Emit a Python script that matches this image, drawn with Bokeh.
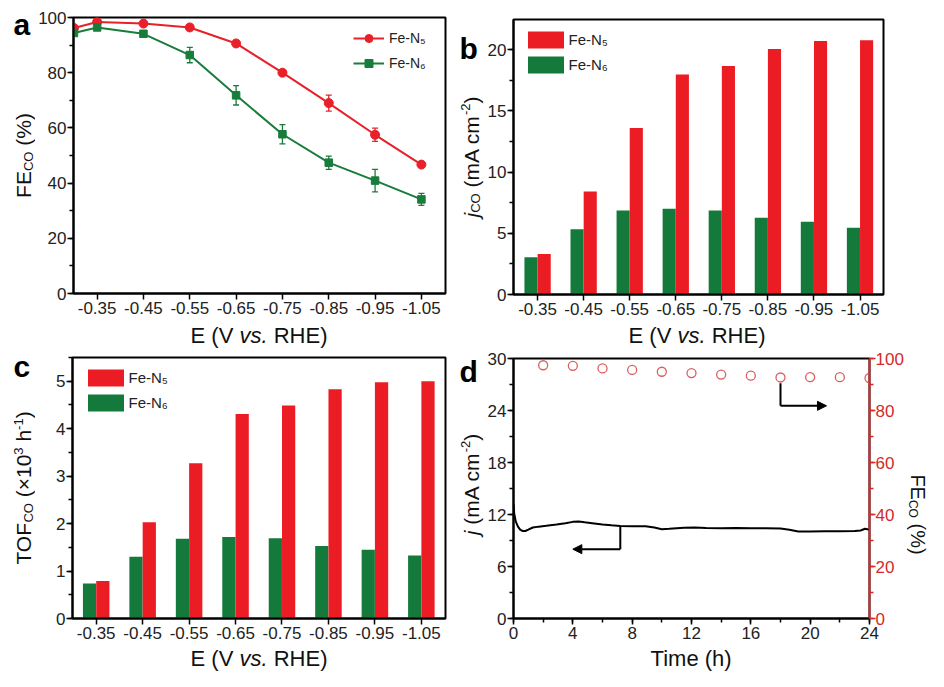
import math
from bokeh.plotting import figure
from bokeh.models import (Range1d, LinearAxis, FixedTicker, SingleIntervalTicker, Label,
                          Legend, LegendItem, Whisker, TeeHead, ColumnDataSource, Arrow, NormalHead)
from bokeh.layouts import column, row
from bokeh.transform import dodge
from bokeh.embed import file_html
from bokeh.resources import INLINE

FONT = "Liberation Sans"
RED = "#e8202a"
GREEN = "#187c3b"
BAR_RED = "#ec1c24"
BAR_GREEN = "#137a3c"
AX_RED = "#d42a2a"
FE_CIRCLE = "#d8605f"

# ---------------- data ----------------
# panel a
POT_A = [-0.30, -0.35, -0.45, -0.55, -0.65, -0.75, -0.85, -0.95, -1.05]
FE_N5 = [96.2, 98.4, 97.8, 96.4, 90.6, 80.0, 69.0, 57.5, 46.7]
FE_N5_ERR = [1.0, 1.0, 0.8, 0.8, 1.0, 1.0, 2.9, 2.4, 1.0]
FE_N6 = [94.4, 96.4, 94.1, 86.4, 71.8, 57.7, 47.4, 40.9, 34.1]
FE_N6_ERR = [1.0, 1.0, 1.0, 2.8, 3.5, 3.5, 2.4, 4.1, 2.2]
POT_TICKS = [-0.35, -0.45, -0.55, -0.65, -0.75, -0.85, -0.95, -1.05]
POT_LABELS = ["-0.35", "-0.45", "-0.55", "-0.65", "-0.75", "-0.85", "-0.95", "-1.05"]

# panel b  (j_CO, mA cm^-2)
J_N5 = [3.3, 8.4, 13.6, 17.95, 18.65, 20.05, 20.7, 20.75]
J_N6 = [3.05, 5.33, 6.86, 7.0, 6.86, 6.26, 5.93, 5.44]

# panel c  (TOF_CO, x10^3 h^-1)
TOF_N5 = [0.79, 2.03, 3.27, 4.31, 4.49, 4.83, 4.98, 5.0]
TOF_N6 = [0.74, 1.30, 1.68, 1.72, 1.69, 1.53, 1.45, 1.33]

# panel d
TIME_H = [0, 0.05, 0.15, 0.3, 0.45, 0.6, 0.8, 1.0, 1.3, 1.7, 2.2, 2.9, 3.5, 4.0, 4.4, 4.8, 5.3,
          6.0, 6.6, 7.2, 8.0, 8.9, 9.5, 10.0, 10.5, 11.0, 11.5, 12.2, 13.0, 14.0, 15.0, 16.0,
          17.0, 18.0, 18.6, 19.2, 20.0, 21.0, 22.0, 23.0, 23.4, 23.7, 24.0]
J_TOTAL = [13.2, 12.1, 11.2, 10.6, 10.25, 10.1, 10.1, 10.25, 10.5, 10.6, 10.7, 10.85, 11.0,
           11.15, 11.2, 11.1, 11.0, 10.85, 10.75, 10.68, 10.65, 10.65, 10.5, 10.3, 10.35, 10.42,
           10.48, 10.5, 10.45, 10.42, 10.45, 10.42, 10.4, 10.38, 10.25, 10.05, 10.05, 10.08,
           10.08, 10.1, 10.15, 10.35, 10.25]
FE_TIME = [2, 4, 6, 8, 10, 12, 14, 16, 18, 20, 22, 24]
FE_STAB = [97.4, 97.2, 96.2, 95.6, 94.9, 94.4, 93.8, 93.4, 92.7, 92.8, 92.8, 92.5]
ARROW_J_X = [7.2, 7.2, 4.0]
ARROW_J_Y = [10.6, 8.0, 8.0]
ARROW_FE_X = [18.0, 18.0, 21.1]
ARROW_FE_Y = [90.5, 81.8, 81.8]

# ---------------- helpers ----------------
CW = {' ': 278, '(': 333, ')': 333, '%': 889, '-': 333, '.': 278, '\u00d7': 584,
      'A': 667, 'C': 722, 'E': 667, 'F': 611, 'H': 722, 'O': 778, 'R': 722, 'T': 611,
      'V': 667, 'a': 556, 'c': 500, 'e': 556, 'h': 556, 'i': 222, 'j': 222, 'm': 833,
      's': 500, 'v': 500, 't': 278, 'o': 556}
MID = 0.3465  # distance from the vertical text centre to the alphabetic baseline, in em


def text_w(t, size):
    return sum(CW.get(ch, 556) for ch in t) * size / 1000.0


def rich(p, x, y, parts, angle=0.0, color="#111111"):
    """parts: (text, size, style, dy); (x, y) = centre of the baseline, dy>0 raises a run."""
    widths = [text_w(t, s) for t, s, _, _ in parts]
    total = sum(widths)
    ux, uy = math.cos(angle), math.sin(angle)
    nx, ny = -math.sin(angle), math.cos(angle)
    pos = -total / 2.0
    for (t, s, st, dy), w in zip(parts, widths):
        lead = len(t) - len(t.lstrip(' '))
        q = pos + lead * 278 * s / 1000.0
        txt = t.strip(' ')
        up = dy + MID * s
        if txt:
            p.add_layout(Label(x=x + ux * q + nx * up, y=y + uy * q + ny * up,
                               x_units="screen", y_units="screen", text=txt,
                               text_font=FONT, text_font_size=f"{s}px", text_font_style=st,
                               text_color=color, angle=angle, text_align="left",
                               text_baseline="middle"))
        pos += w


def letter(p, x, y, t):
    p.add_layout(Label(x=x, y=y + MID * 30, x_units="screen", y_units="screen", text=t,
                       text_font=FONT, text_font_size="30px", text_font_style="bold",
                       text_color="black", text_align="left", text_baseline="middle"))


def style(p):
    p.outline_line_color = "black"
    p.outline_line_width = 2
    p.outline_line_alpha = 1
    p.xgrid.visible = False
    p.ygrid.visible = False
    p.background_fill_color = "white"
    p.border_fill_color = "white"
    for ax in p.axis:
        ax.axis_line_width = 2
        ax.axis_line_color = "black"
        ax.major_tick_line_width = 1.5
        ax.minor_tick_line_width = 1.5
        ax.major_tick_out = 6
        ax.major_tick_in = 0
        ax.minor_tick_out = 4
        ax.minor_tick_in = 0
        ax.major_label_text_font = FONT
        ax.major_label_text_font_size = "17px"
        ax.major_label_text_color = "#222222"
        ax.major_label_standoff = 2
    for ax in p.yaxis:
        ax.major_label_standoff = 1


def mk(w, h, bl, br, bt, bb, xr, yr):
    return figure(width=w, height=h, min_border_left=bl, min_border_right=br,
                  min_border_top=bt, min_border_bottom=bb, x_range=xr, y_range=yr,
                  output_backend="svg", toolbar_location=None, tools="", title=None)


def strip(w, h):
    f = figure(width=w, height=h, min_border_left=0, min_border_right=0, min_border_top=0,
               min_border_bottom=0, x_axis_location=None, y_axis_location=None,
               toolbar_location=None, tools="", title=None, output_backend="svg",
               x_range=Range1d(0, 1), y_range=Range1d(0, 1))
    f.outline_line_color = None
    f.xgrid.visible = False
    f.ygrid.visible = False
    f.background_fill_color = "white"
    f.border_fill_color = "white"
    return f


E_LABEL = [("E (V ", 22, "normal", 0), ("vs.", 22, "italic", 0), (" RHE)", 22, "normal", 0)]
SUB = -2.0
SUP = 8.0

# ---------------- panel a ----------------
pa = mk(423, 323, 37, 13, 17, 30, Range1d(-0.299, -1.102), Range1d(0, 100))
src5 = ColumnDataSource(dict(x=POT_A, y=FE_N5, up=[v + e for v, e in zip(FE_N5, FE_N5_ERR)],
                             lo=[v - e for v, e in zip(FE_N5, FE_N5_ERR)]))
src6 = ColumnDataSource(dict(x=POT_A, y=FE_N6, up=[v + e for v, e in zip(FE_N6, FE_N6_ERR)],
                             lo=[v - e for v, e in zip(FE_N6, FE_N6_ERR)]))
for s, c in ((src5, RED), (src6, GREEN)):
    pa.add_layout(Whisker(source=s, base="x", upper="up", lower="lo", dimension="height",
                          line_color=c, line_width=1.3,
                          upper_head=TeeHead(size=6, line_color=c, line_width=1.3),
                          lower_head=TeeHead(size=6, line_color=c, line_width=1.3)))
l5 = pa.line("x", "y", source=src5, line_color=RED, line_width=2)
m5 = pa.scatter("x", "y", source=src5, marker="circle", size=9, fill_color=RED, line_color=RED)
l6 = pa.line("x", "y", source=src6, line_color=GREEN, line_width=2)
m6 = pa.scatter("x", "y", source=src6, marker="square", size=7.5, fill_color=GREEN, line_color=GREEN)
pa.xaxis.ticker = FixedTicker(ticks=POT_TICKS, minor_ticks=[])
pa.xaxis.major_label_overrides = {t: l for t, l in zip(POT_TICKS, POT_LABELS)}
pa.yaxis.ticker = SingleIntervalTicker(interval=20, num_minor_ticks=2)
leg_a = Legend(items=[LegendItem(label="Fe-N\u2085", renderers=[l5, m5]),
                      LegendItem(label="Fe-N\u2086", renderers=[l6, m6])],
               location=(280, 220), border_line_color=None, background_fill_alpha=0,
               padding=0, margin=0, spacing=5, glyph_width=31, glyph_height=20,
               label_height=20, label_standoff=5, label_text_font=FONT,
               label_text_font_size="14px", label_text_color="#222222")
pa.add_layout(leg_a)
style(pa)

ya = strip(35, 323)   # its frame is aligned with pa's frame (276 px tall)
rich(ya, 30.5, 138, [("FE", 21, "normal", 0), ("CO", 13, "normal", SUB), (" (%)", 21, "normal", 0)],
     angle=math.pi / 2)
letter(ya, 13, 259, "a")
xa = strip(458, 25)
rich(xa, 258.5, 5, E_LABEL)


# ---------------- bar panels ----------------
def bar_panel(w, h, bl, br, bt, bb, xr, yr, n5, n6, ytick, legend_loc):
    p = mk(w, h, bl, br, bt, bb, xr, yr)
    s = ColumnDataSource(dict(x=list(range(len(n5))), n5=n5, n6=n6))
    g = p.vbar(x=dodge("x", -0.143), top="n6", width=0.285, source=s,
               fill_color=BAR_GREEN, line_color=None)
    r = p.vbar(x=dodge("x", 0.143), top="n5", width=0.285, source=s,
               fill_color=BAR_RED, line_color=None)
    p.xaxis.ticker = FixedTicker(ticks=list(range(len(n5))), minor_ticks=[])
    p.xaxis.major_label_overrides = {i: l for i, l in enumerate(POT_LABELS)}
    p.yaxis.ticker = SingleIntervalTicker(interval=ytick, num_minor_ticks=2)
    leg = Legend(items=[LegendItem(label="Fe-N\u2085", renderers=[r]),
                        LegendItem(label="Fe-N\u2086", renderers=[g])],
                 location=legend_loc, border_line_color=None, background_fill_alpha=0,
                 padding=0, margin=0, spacing=4, glyph_width=45, glyph_height=21,
                 label_height=20, label_standoff=1, label_text_font=FONT,
                 label_text_font_size="15px", label_text_color="#222222")
    p.add_layout(leg)
    style(p)
    return p


pb = bar_panel(444, 323, 26, 45, 19, 29, Range1d(-0.523, 7.51), Range1d(0, 22.45), J_N5, J_N6, 5,
               (9.5, 219))
yb = strip(26, 323)   # frame aligned with pb's frame (275 px)
rich(yb, 20, 137.5, [("j", 21, "italic", 0), ("CO", 13, "normal", SUB),
                     (" (mA cm", 21, "normal", 0), ("-2", 13, "normal", SUP),
                     (")", 21, "normal", 0)], angle=math.pi / 2)
letter(yb, 1, 236, "b")
xb = strip(470, 25)
rich(xb, 238.5, 5, E_LABEL)

pc = bar_panel(423, 298, 37, 13, 9, 28, Range1d(-0.51, 7.52), Range1d(0, 5.5), TOF_N5, TOF_N6, 1,
               (10.5, 205))
yc = strip(35, 298)   # frame aligned with pc's frame (261 px)
rich(yc, 30.5, 130.5, [("TOF", 21, "normal", 0), ("CO", 13, "normal", SUB),
                       (" (\u00d710", 21, "normal", 0), ("3", 13, "normal", SUP),
                       (" h", 21, "normal", 0), ("-1", 13, "normal", SUP),
                       (")", 21, "normal", 0)], angle=math.pi / 2)
letter(yc, 13, 242, "c")
xc = strip(458, 25)
rich(xc, 258.5, 5, E_LABEL)

# ---------------- panel d ----------------
pd_ = mk(422, 298, 27, 35, 10, 28, Range1d(0, 24), Range1d(0, 30))
pd_.extra_y_ranges = {"fe": Range1d(0, 100)}
rax = LinearAxis(y_range_name="fe", ticker=SingleIntervalTicker(interval=20, num_minor_ticks=2))
pd_.add_layout(rax, "right")
pd_.line(TIME_H, J_TOTAL, line_color="black", line_width=2)
pd_.scatter(FE_TIME, FE_STAB, y_range_name="fe", marker="circle", size=9, fill_color=None,
            line_color=FE_CIRCLE, line_width=1.3)
pd_.line(ARROW_J_X[:2], ARROW_J_Y[:2], line_color="black", line_width=2)
pd_.add_layout(Arrow(end=NormalHead(size=9, fill_color="black", line_color="black"),
                     x_start=ARROW_J_X[1], y_start=ARROW_J_Y[1], x_end=ARROW_J_X[2],
                     y_end=ARROW_J_Y[2], line_color="black", line_width=2))
pd_.line(ARROW_FE_X[:2], ARROW_FE_Y[:2], y_range_name="fe", line_color="black", line_width=2)
pd_.add_layout(Arrow(end=NormalHead(size=9, fill_color="black", line_color="black"),
                     x_start=ARROW_FE_X[1], y_start=ARROW_FE_Y[1], x_end=ARROW_FE_X[2],
                     y_end=ARROW_FE_Y[2], y_range_name="fe", line_color="black", line_width=2))
pd_.xaxis.ticker = SingleIntervalTicker(interval=4, num_minor_ticks=2)
pd_.yaxis[0].ticker = SingleIntervalTicker(interval=6, num_minor_ticks=2)
style(pd_)
rax.axis_line_color = AX_RED
rax.major_tick_line_color = AX_RED
rax.minor_tick_line_color = AX_RED
rax.major_label_text_color = AX_RED
rax.major_label_standoff = 0

yd = strip(26, 298)   # frame aligned with pd's frame (260 px)
rich(yd, 20, 134, [("j", 21, "italic", 0), (" (mA cm", 21, "normal", 0),
                   ("-2", 13, "normal", SUP), (")", 21, "normal", 0)], angle=math.pi / 2)
letter(yd, 1, 237, "d")
rd = strip(22, 298)
rich(rd, 4.3, 104, [("FE", 20, "normal", 0), ("CO", 12, "normal", -1.5),
                    (" (%)", 20, "normal", 0)], angle=-math.pi / 2)
xd = strip(470, 25)
rich(xd, 233, 5, [("Time (h)", 22, "normal", 0)])

block_a = column(row(ya, pa), xa)
block_b = column(row(yb, pb), xb)
block_c = column(row(yc, pc), xc)
block_d = column(row(yd, pd_, rd), xd)
layout = column(row(block_a, block_b), row(block_c, block_d))
open("out.html", "w").write(file_html(layout, INLINE))
